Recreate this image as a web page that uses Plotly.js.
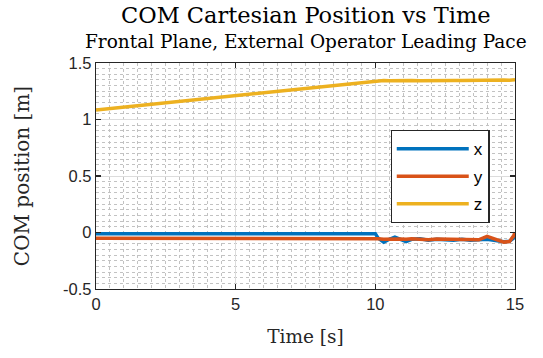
<!DOCTYPE html>
<html>
<head>
<meta charset="utf-8">
<script src="https://cdn.plot.ly/plotly-3.0.1.min.js"></script>
<style>html,body{margin:0;padding:0;background:#fff;}#chart{width:543px;height:358px;}</style>
</head>
<body>
<div id="chart"></div>
<script>
// Data
const time = [0, 2, 4, 6, 8, 10, 10.1, 10.3, 10.5, 10.7, 10.9, 11.1, 11.3, 11.6, 11.9, 12.2, 12.5, 12.8, 13.1, 13.4, 13.7, 14.0, 14.3, 14.6, 14.8, 14.95, 15];
const xPos = [-0.01, -0.01, -0.01, -0.01, -0.01, -0.01, -0.05, -0.085, -0.06, -0.04, -0.06, -0.08, -0.06, -0.055, -0.068, -0.06, -0.065, -0.068, -0.06, -0.068, -0.065, -0.06, -0.072, -0.082, -0.078, -0.05, -0.02];
const yPos = [-0.05, -0.05, -0.05, -0.05, -0.05, -0.05, -0.055, -0.06, -0.058, -0.062, -0.057, -0.06, -0.055, -0.06, -0.065, -0.058, -0.06, -0.062, -0.057, -0.06, -0.065, -0.035, -0.06, -0.085, -0.08, -0.03, 0.0];
const zPos = [1.084, 1.136, 1.188, 1.24, 1.292, 1.344, 1.343, 1.345, 1.342, 1.344, 1.346, 1.343, 1.345, 1.344, 1.346, 1.345, 1.347, 1.345, 1.346, 1.348, 1.347, 1.346, 1.348, 1.349, 1.348, 1.35, 1.352];
const seriesNames = ['x', 'y', 'z'];
const seriesColors = ['#0072BD', '#D95319', '#EDB120'];
const xTicks = [0, 5, 10, 15];
const yTicks = [-0.5, 0, 0.5, 1, 1.5];

const series = [xPos, yPos, zPos];
const traces = series.map((vals, i) => ({
  x: time, y: vals, type: 'scatter', mode: 'lines',
  name: seriesNames[i], legendgroup: 'g' + i,
  line: {color: seriesColors[i], width: 3.5}
}));

const axisCol = '#262626';
const sans = 'Liberation Sans, Arial, sans-serif';
const serif = 'DejaVu Serif, serif';

const layout = {
  width: 543, height: 358,
  margin: {l: 96, r: 28, t: 63, b: 69},
  paper_bgcolor: '#ffffff', plot_bgcolor: '#ffffff',
  showlegend: true,
  xaxis: {
    range: [0, 15], tickvals: xTicks, ticktext: xTicks.map(String),
    showline: true, linecolor: axisCol, linewidth: 1.2, mirror: 'ticks',
    ticks: 'inside', ticklen: 5, tickcolor: axisCol, tickwidth: 1.2,
    tickfont: {family: sans, size: 16.5, color: axisCol},
    showgrid: true, gridcolor: '#dcdcdc', gridwidth: 1, zeroline: false,
    minor: {dtick: 0.5, tick0: 0, showgrid: true, gridcolor: '#c2c2c2', griddash: 'dot', gridwidth: 1, ticks: ''},
    title: {text: 'Time [s]', font: {family: serif, size: 18.5, color: axisCol}, standoff: 18}
  },
  yaxis: {
    range: [-0.5, 1.5], tickvals: yTicks, ticktext: ['-0.5', '0', '0.5', '1', '1.5'],
    showline: true, linecolor: axisCol, linewidth: 1.2, mirror: 'ticks',
    ticks: 'inside', ticklen: 5, tickcolor: axisCol, tickwidth: 1.2,
    tickfont: {family: sans, size: 16.5, color: axisCol},
    showgrid: true, gridcolor: '#dcdcdc', gridwidth: 1, zeroline: false,
    minor: {dtick: 0.05, tick0: 0, showgrid: true, gridcolor: '#c2c2c2', griddash: 'dot', gridwidth: 1, ticks: ''},
    title: {text: 'COM position [m]', font: {family: serif, size: 20, color: axisCol}, standoff: 28}
  },
  legend: {
    x: 0.703, y: 0.704, xanchor: 'left', yanchor: 'top',
    bgcolor: '#ffffff', bordercolor: axisCol, borderwidth: 1.2,
    font: {family: sans, size: 17, color: '#000000'},
    itemwidth: 72, tracegroupgap: 2.5
  },
  annotations: [
    {text: 'COM Cartesian Position vs Time', xref: 'paper', yref: 'paper', x: 0.5, y: 1.212,
     xanchor: 'center', yanchor: 'middle', showarrow: false,
     font: {family: serif, size: 22.5, color: '#000000'}},
    {text: 'Frontal Plane, External Operator Leading Pace', xref: 'paper', yref: 'paper', x: 0.5, y: 1.093,
     xanchor: 'center', yanchor: 'middle', showarrow: false,
     font: {family: serif, size: 18.5, color: '#000000'}}
  ]
};

Plotly.newPlot('chart', traces, layout, {displayModeBar: false, staticPlot: true});
</script>
</body>
</html>
